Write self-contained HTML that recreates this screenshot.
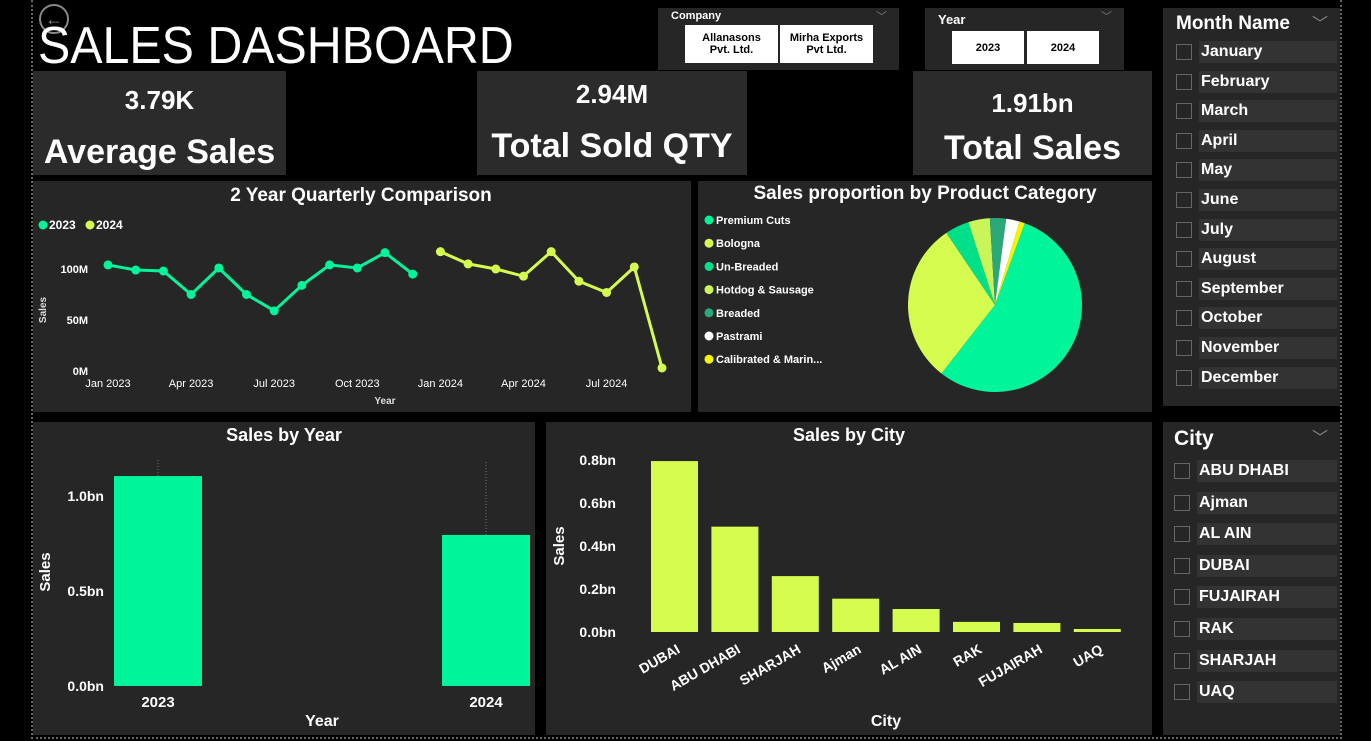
<!DOCTYPE html>
<html><head><meta charset="utf-8"><style>
body{margin:0;background:#000;width:1371px;height:741px;overflow:hidden;font-family:"Liberation Sans",sans-serif;color:#fff}
.abs{position:absolute}
.panel{position:absolute;background:#262626}
.kv{font-weight:bold;text-align:center;position:absolute;width:100%}
.slc{position:absolute;background:#262626}
.chk{position:absolute;width:14px;height:14px;border:1px solid #666}
.lbl{position:absolute;background:#333;font-weight:bold;font-size:16px;height:22px;line-height:22px;padding-left:2px}
.btn{position:absolute;background:#fff;color:#000;font-weight:bold;font-size:11px;text-align:center;display:flex;align-items:center;justify-content:center;line-height:12px}
</style></head><body>
<div class="abs" style="left:31px;top:0;width:1307px;height:737px;border-left:2px dotted #666;border-right:2px dotted #666;border-bottom:2px dotted #666"></div>
<div class="abs" style="left:39px;top:4px;width:26px;height:26px;border-radius:50%;border:2px solid #888;color:#888;text-align:center;line-height:26px;font-size:18px">←</div>
<div class="abs" style="left:38px;top:16px;font-size:52px;line-height:60px;transform:scaleX(0.93);transform-origin:left top">SALES DASHBOARD</div>

<div class="panel" style="left:658px;top:8px;width:241px;height:62px">
<div class="abs" style="left:13px;top:2px;font-size:11px;font-weight:bold">Company</div>
<div class="abs" style="right:12px;top:0;color:#777;font-size:11px">﹀</div>
<div class="btn" style="left:27px;top:17px;width:93px;height:38px">Allanasons<br>Pvt. Ltd.</div>
<div class="btn" style="left:122px;top:17px;width:93px;height:38px">Mirha Exports<br>Pvt Ltd.</div>
</div>
<div class="panel" style="left:925px;top:8px;width:199px;height:62px">
<div class="abs" style="left:13px;top:4px;font-size:13px;font-weight:bold">Year</div>
<div class="abs" style="right:12px;top:0;color:#777;font-size:11px">﹀</div>
<div class="btn" style="left:27px;top:23px;width:72px;height:33px">2023</div>
<div class="btn" style="left:102px;top:23px;width:72px;height:33px">2024</div>
</div>

<div class="panel" style="left:33px;top:71px;width:253px;height:104px;background:#2b2b2b">
<div class="kv" style="top:14px;font-size:26px">3.79K</div><div class="kv" style="top:62px;font-size:34px">Average Sales</div></div>
<div class="panel" style="left:477px;top:71px;width:270px;height:104px;background:#2b2b2b">
<div class="kv" style="top:8px;font-size:26px">2.94M</div><div class="kv" style="top:56px;font-size:34px">Total Sold QTY</div></div>
<div class="panel" style="left:913px;top:71px;width:239px;height:104px;background:#2b2b2b">
<div class="kv" style="top:17px;font-size:26px">1.91bn</div><div class="kv" style="top:58px;font-size:34px">Total Sales</div></div>

<div class="slc" style="left:1163px;top:8px;width:177px;height:398px">
<div class="abs" style="left:13px;top:5px;font-size:19px;font-weight:bold">Month Name</div>
<div class="abs" style="right:12px;top:2px;color:#888;font-size:16px">﹀</div>
<div id="months"></div></div>
<div class="slc" style="left:1163px;top:422px;width:177px;height:313px">
<div class="abs" style="left:11px;top:5px;font-size:21px;font-weight:bold">City</div>
<div class="abs" style="right:12px;top:2px;color:#888;font-size:16px">﹀</div>
<div id="cities"></div></div>

<svg class="abs" style="left:0;top:0" width="1371" height="741" id="svg">
<rect x="33" y="181" width="658" height="231" fill="#262626"/>
<rect x="698" y="181" width="454" height="231" fill="#262626"/>
<rect x="33" y="422" width="502" height="313" fill="#262626"/>
<rect x="546" y="422" width="606" height="313" fill="#262626"/>
<g font-family="Liberation Sans" font-weight="bold" fill="#fff">
<text x="361" y="201" font-size="19" text-anchor="middle">2 Year Quarterly Comparison</text>
<text x="925" y="199" font-size="19" text-anchor="middle">Sales proportion by Product Category</text>
<text x="284" y="441" font-size="18" text-anchor="middle">Sales by Year</text>
<text x="849" y="441" font-size="18" text-anchor="middle">Sales by City</text>
</g>
<g id="line"></g><g id="pie"></g><g id="ybar"></g><g id="cbar"></g>
</svg>
<script>
const NS="http://www.w3.org/2000/svg";
function mk(p,t,a,txt){const e=document.createElementNS(NS,t);for(const k in a)e.setAttribute(k,a[k]);if(txt!==undefined)e.textContent=txt;p.appendChild(e);return e;}
const monthNames=["January","February","March","April","May","June","July","August","September","October","November","December"];
const cityNames=["ABU DHABI","Ajman","AL AIN","DUBAI","FUJAIRAH","RAK","SHARJAH","UAQ"];
const mc=document.getElementById('months');
monthNames.forEach((m,i)=>{const y=35+i*29.6;
 const c=document.createElement('div');c.className='chk';c.style.left='13px';c.style.top=(y+1)+'px';
 
 mc.appendChild(c);
 const l=document.createElement('div');l.className='lbl';l.style.left='36px';l.style.top=(y-2)+'px';l.style.width='136px';l.textContent=m;
 
 mc.appendChild(l);});
const cc=document.getElementById('cities');
cityNames.forEach((m,i)=>{const y=40+i*31.6;
 const c=document.createElement('div');c.className='chk';c.style.left='11px';c.style.top=(y+1)+'px';
 
 cc.appendChild(c);
 const l=document.createElement('div');l.className='lbl';l.style.left='34px';l.style.top=(y-2)+'px';l.style.width='138px';l.textContent=m;
 
 cc.appendChild(l);});

// line chart data
const sales2023=[104,99,98,75,101,75,59,84,104,101,116,95];
const sales2024=[117,105,100,93,117,88,77,102,3];
const lineTicks=[0,50,100];
const xLabels=["Jan 2023","Apr 2023","Jul 2023","Oct 2023","Jan 2024","Apr 2024","Jul 2024"];
const lx=i=>108+i*27.7, ly=v=>371-v*1.02;
const L=document.getElementById('line');
lineTicks.forEach(t=>{const e=mk(L,'text',{x:88,y:ly(t)+4,'font-size':11,'font-weight':'bold',fill:'#fff','text-anchor':'end','font-family':'Liberation Sans'},t+'M');
 
 });
xLabels.forEach((t,i)=>{const e=mk(L,'text',{x:lx(i*3),y:387,'font-size':11,fill:'#fff','text-anchor':'middle','font-family':'Liberation Sans'},t);
 
 });
let e=mk(L,'text',{x:385,y:404,'font-size':10,'font-weight':'bold',fill:'#ddd','text-anchor':'middle','font-family':'Liberation Sans'},'Year');


e=mk(L,'text',{x:0,y:0,transform:'translate(46,310) rotate(-90)','font-size':10,'font-weight':'bold',fill:'#ddd','text-anchor':'middle','font-family':'Liberation Sans'},'Sales');


[[sales2023,0,'#00f59a','2023',43],[sales2024,12,'#d6fb4f','2024',90]].forEach(([d,off,col,name,lgx])=>{
 const p=mk(L,'polyline',{points:d.map((v,i)=>lx(i+off)+','+ly(v)).join(' '),fill:'none',stroke:col,'stroke-width':3});
 
 
 d.forEach((v,i)=>{const c=mk(L,'circle',{cx:lx(i+off),cy:ly(v),r:4.5,fill:col});
  
  });
 const lc=mk(L,'circle',{cx:lgx,cy:225,r:4.5,fill:col});
 
 
 const lt=mk(L,'text',{x:lgx+6,y:229,'font-size':12,'font-weight':'bold',fill:'#fff','font-family':'Liberation Sans'},name);
 
 
});

// pie
const catNames=["Premium Cuts","Bologna","Un-Breaded","Hotdog & Sausage","Breaded","Pastrami","Calibrated & Marin..."];
const catValues=[55,30,4.5,4,3,2.5,1];
const catColors=["#00f59a","#d6fb4f","#00e08a","#c9f55a","#2aa878","#ffffff","#f5f500"];
const P=document.getElementById('pie');
const tot=catValues.reduce((a,b)=>a+b,0);let ang=20;const cx=995,cy=305,r=87;
catValues.forEach((v,i)=>{const a0=ang*Math.PI/180,a1=(ang+v/tot*360)*Math.PI/180;ang+=v/tot*360;
 const x0=cx+r*Math.sin(a0),y0=cy-r*Math.cos(a0),x1=cx+r*Math.sin(a1),y1=cy-r*Math.cos(a1);
 const s=mk(P,'path',{d:`M${cx},${cy}L${x0},${y0}A${r},${r} 0 ${(a1-a0)>Math.PI?1:0} 1 ${x1},${y1}Z`,fill:catColors[i]});
 
 
 const lc=mk(P,'circle',{cx:709,cy:220+i*23.2,r:4.5,fill:catColors[i]});
 
 
 const lt=mk(P,'text',{x:716,y:224+i*23.2,'font-size':11,'font-weight':'bold',fill:'#fff','font-family':'Liberation Sans'},catNames[i]);
 
 });

// year bars
const years=["2023","2024"];
const yearSales=[1.105,0.795];
const yearTicks=[0,0.5,1.0];
const Y=document.getElementById('ybar');
const yy=v=>686-v*190;
yearTicks.forEach(t=>{const e=mk(Y,'text',{x:104,y:yy(t)+5,'font-size':14,'font-weight':'bold',fill:'#fff','text-anchor':'end','font-family':'Liberation Sans'},t.toFixed(1)+'bn');
 
 });
yearSales.forEach((v,i)=>{const x=114+i*328;
 const er=mk(Y,'line',{x1:x+44,x2:x+44,y1:yy(v)-16-i*57,y2:yy(v),stroke:'#777','stroke-dasharray':'1,2'});
 
 
 const b=mk(Y,'rect',{x:x,y:yy(v),width:88,height:v*190,fill:'#00f59a'});
 
 
 const t=mk(Y,'text',{x:x+44,y:707,'font-size':15,'font-weight':'bold',fill:'#fff','text-anchor':'middle','font-family':'Liberation Sans'},years[i]);
 
 });
e=mk(Y,'text',{x:322,y:726,'font-size':16,'font-weight':'bold',fill:'#fff','text-anchor':'middle','font-family':'Liberation Sans'},'Year');


e=mk(Y,'text',{x:0,y:0,transform:'translate(50,572) rotate(-90)','font-size':15,'font-weight':'bold',fill:'#fff','text-anchor':'middle','font-family':'Liberation Sans'},'Sales');



// city bars
const cities=["DUBAI","ABU DHABI","SHARJAH","Ajman","AL AIN","RAK","FUJAIRAH","UAQ"];
const citySales=[0.795,0.49,0.26,0.155,0.107,0.047,0.042,0.014];
const cityTicks=[0,0.2,0.4,0.6,0.8];
const C=document.getElementById('cbar');
const cy2=v=>632-v*215;
cityTicks.forEach(t=>{const e=mk(C,'text',{x:616,y:cy2(t)+5,'font-size':14,'font-weight':'bold',fill:'#fff','text-anchor':'end','font-family':'Liberation Sans'},t.toFixed(1)+'bn');
 
 });
citySales.forEach((v,i)=>{const x=651+i*60.4;
 const b=mk(C,'rect',{x:x,y:cy2(v),width:47,height:v*215,fill:'#d6fb4f'});
 
 
 const t=mk(C,'text',{x:0,y:0,transform:`translate(${x+30},${652}) rotate(-30)`,'font-size':14,'font-weight':'bold',fill:'#fff','text-anchor':'end','font-family':'Liberation Sans'},cities[i]);
 
 });
e=mk(C,'text',{x:886,y:726,'font-size':16,'font-weight':'bold',fill:'#fff','text-anchor':'middle','font-family':'Liberation Sans'},'City');


e=mk(C,'text',{x:0,y:0,transform:'translate(564,546) rotate(-90)','font-size':15,'font-weight':'bold',fill:'#fff','text-anchor':'middle','font-family':'Liberation Sans'},'Sales');


</script>
</body></html>
